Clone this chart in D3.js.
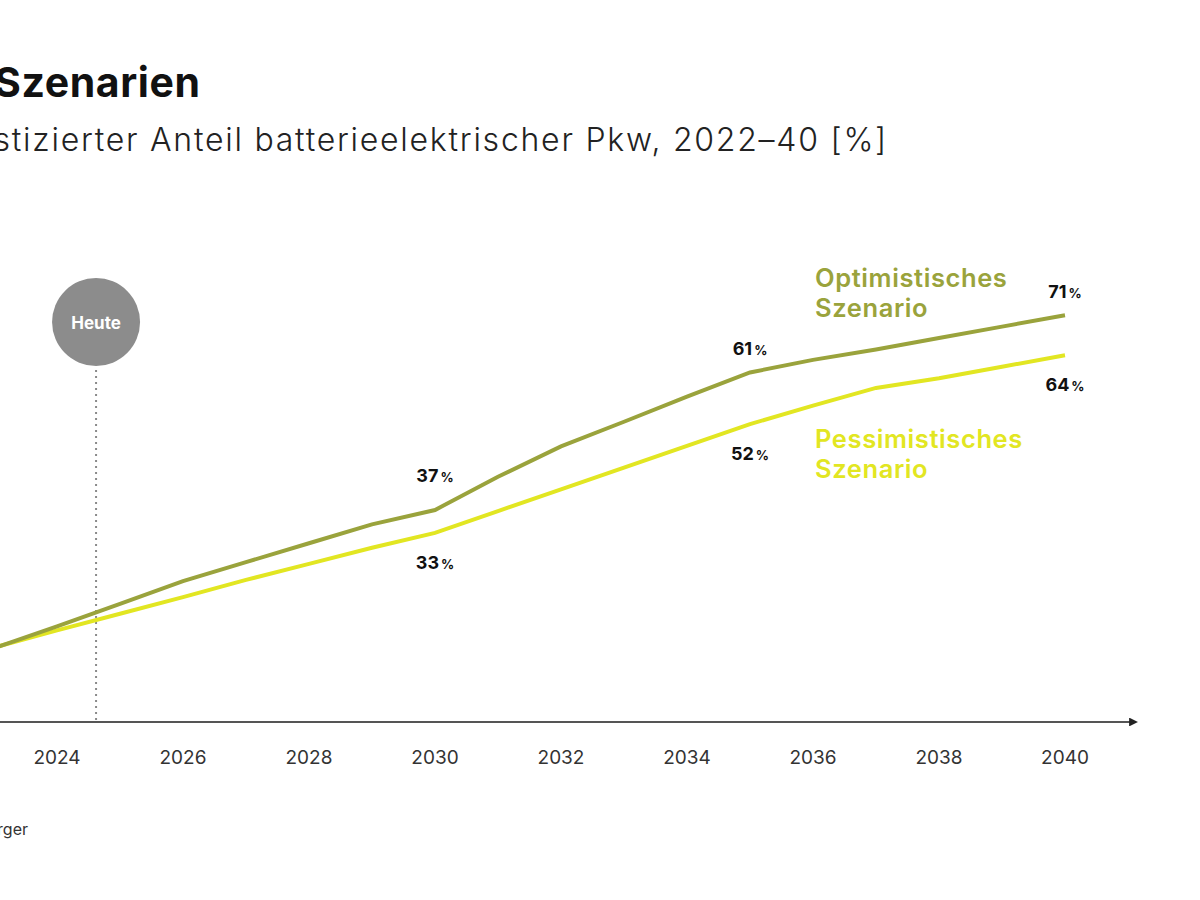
<!DOCTYPE html>
<html>
<head>
<meta charset="utf-8">
<script src="https://cdn.jsdelivr.net/npm/d3@7"></script>
<style>
  body { margin: 0; background: #fff; }
  svg { display: block; font-family: "Inter", "Lato", sans-serif; }
  .tick-label { font-size: 19px; fill: #333; }
  .value { font-weight: 700; fill: #111; }
</style>
</head>
<body>
<svg id="chart" width="1200" height="900"></svg>
<script>
// DATA
var years = [2022,2023,2024,2025,2026,2027,2028,2029,2030,2031,2032,2033,2034,2035,2036,2037,2038,2039,2040];
var optimistic  = [9.5,12.9,16.7,20.6,24.6,27.9,31.2,34.5,37,42.8,48.1,52.4,56.8,61,63.2,65,67,69,71];
var pessimistic = [9.5,13.0,16.0,18.9,21.8,24.8,27.6,30.4,33,36.8,40.6,44.4,48.2,52,55.2,58.3,60,62,64];
var tickYears = [2024,2026,2028,2030,2032,2034,2036,2038,2040];
var labelYears = [2030,2035,2040];
var todayYear = 2024.62;

var colorOpt = "#9aa33c";
var colorPes = "#e2e622";

var svg = d3.select("#chart");

// SCALES
var x = d3.scaleLinear().domain([2024, 2040]).range([57, 1065]);
var y = d3.scaleLinear().domain([0, 100]).range([722, 149]);
var axisY = y(0);

// TITLE
svg.append("text")
  .attr("x", -6).attr("y", 97)
  .style("font-size", "41px").style("font-weight", 700).style("fill", "#111")
  .style("letter-spacing", "0.6px")
  .text("Szenarien");

svg.append("text")
  .attr("x", 888).attr("y", 151)
  .attr("text-anchor", "end")
  .style("font-size", "32px").style("font-weight", 300).style("fill", "#222")
  .style("letter-spacing", "1.75px")
  .text("Prognostizierter Anteil batterieelektrischer Pkw, 2022–40 [%]");

// X AXIS (arrow line, no ticks)
svg.append("defs").append("marker")
  .attr("id", "arrow")
  .attr("viewBox", "0 0 10 10")
  .attr("refX", 1).attr("refY", 5)
  .attr("markerWidth", 4).attr("markerHeight", 4)
  .attr("orient", "auto")
  .append("path")
  .attr("d", "M0,0 L10,5 L0,10 z")
  .style("fill", "#222");

svg.append("line")
  .attr("x1", 0).attr("x2", 1130)
  .attr("y1", axisY).attr("y2", axisY)
  .style("stroke", "#555").style("stroke-width", 2.2)
  .attr("marker-end", "url(#arrow)");

svg.selectAll(".tick-label")
  .data(tickYears)
  .enter().append("text")
  .attr("class", "tick-label")
  .attr("x", function(d) { return x(d); })
  .attr("y", 764)
  .attr("text-anchor", "middle")
  .text(function(d) { return d; });

// HEUTE MARKER
svg.append("line")
  .attr("x1", x(todayYear)).attr("x2", x(todayYear))
  .attr("y1", 370).attr("y2", axisY)
  .style("stroke", "#8a8a8a").style("stroke-width", 2)
  .style("stroke-dasharray", "2,4");

svg.append("circle")
  .attr("cx", x(todayYear)).attr("cy", 322).attr("r", 44)
  .style("fill", "#8c8c8c");

svg.append("text")
  .attr("x", x(todayYear)).attr("y", 329)
  .attr("text-anchor", "middle")
  .style("font-size", "17px").style("font-weight", 700).style("fill", "#fff")
  .text("Heute");

// LINES
var line = d3.line()
  .x(function(d) { return x(d[0]); })
  .y(function(d) { return y(d[1]); });

svg.append("path")
  .datum(d3.zip(years, pessimistic))
  .attr("d", line)
  .style("fill", "none").style("stroke", colorPes).style("stroke-width", 4);

svg.append("path")
  .datum(d3.zip(years, optimistic))
  .attr("d", line)
  .style("fill", "none").style("stroke", colorOpt).style("stroke-width", 4);

// VALUE LABELS
function valueLabel(year, value, dy) {
  var t = svg.append("text")
    .attr("class", "value")
    .attr("x", x(year)).attr("y", y(value) + dy)
    .attr("text-anchor", "middle");
  t.append("tspan").style("font-size", "18px").text(Math.round(value));
  t.append("tspan").style("font-size", "13px").attr("dx", 2).text("%");
}
labelYears.forEach(function(yr) {
  var i = years.indexOf(yr);
  valueLabel(yr, optimistic[i], yr === 2030 ? -28 : -17);
  valueLabel(yr, pessimistic[i], 36);
});

// SERIES LABELS
function seriesLabel(lines, yTop, color) {
  var t = svg.append("text")
    .attr("x", 815).attr("y", yTop)
    .style("font-size", "25.5px").style("font-weight", 600).style("fill", color)
    .style("letter-spacing", "0.6px");
  lines.forEach(function(s, k) {
    t.append("tspan").attr("x", 815).attr("dy", k === 0 ? 0 : 30).text(s);
  });
}
seriesLabel(["Optimistisches", "Szenario"], 287, colorOpt);
seriesLabel(["Pessimistisches", "Szenario"], 448, colorPes);

// SOURCE
svg.append("text")
  .attr("x", 28).attr("y", 835)
  .attr("text-anchor", "end")
  .style("font-size", "16px").style("fill", "#333")
  .text("Quelle: Roland Berger");
</script>
</body>
</html>
